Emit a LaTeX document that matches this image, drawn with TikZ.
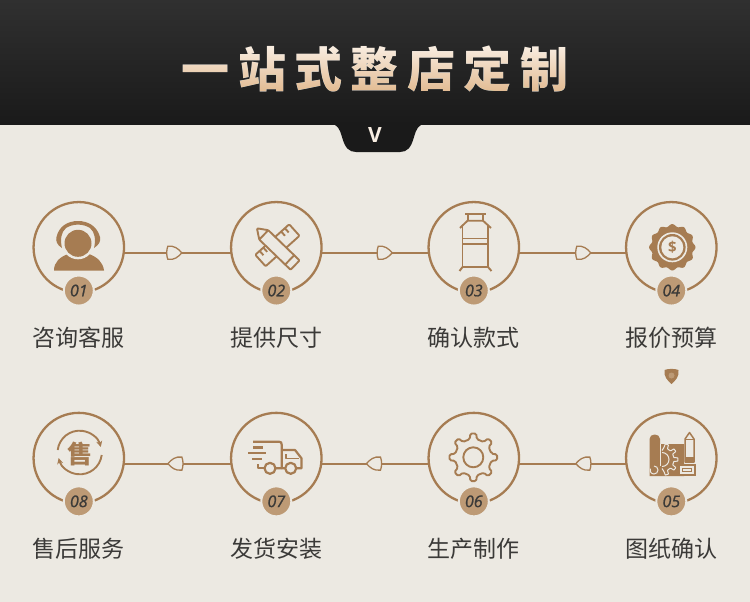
\documentclass[tikz,border=0pt]{standalone}
\usepackage{fontspec}
\setmainfont{Noto Sans CJK SC}
\setsansfont{Open Sans}
\newfontfamily\numfont[ItalicFeatures={FakeBold=1}]{Open Sans}
\newfontfamily\titlefont[LetterSpace=17.5]{Noto Sans CJK SC Black}
\usetikzlibrary{positioning,calc,arrows.meta}
\definecolor{Paper}{HTML}{ECE9E2}
\definecolor{RingTan}{HTML}{A67C52}
\definecolor{BadgeTan}{HTML}{BD9A75}
\definecolor{InkGrey}{HTML}{3B3A38}
\definecolor{BarTop}{HTML}{303030}
\definecolor{BarEnd}{HTML}{1A1A1A}
\definecolor{TitleTop}{HTML}{F9EEE2}
\definecolor{TitleEnd}{HTML}{E1B88E}
\tikzset{
    % Ring round each step
    ringbox/.style={
        circle,
        draw=RingTan,
        fill=none,
        line width=2.3pt,
        minimum size=90.5pt,
        inner sep=0pt,
        outer sep=0pt
    },
    numbadge/.style={
        circle,
        draw=Paper,
        fill=BadgeTan,
        line width=2pt,
        minimum size=30pt,
        inner sep=0pt,
        outer sep=0pt,
        text=InkGrey,
        font=\numfont\itshape\fontsize{16}{16}\selectfont
    },
    steplabel/.style={
        text=InkGrey,
        inner sep=0pt,
        text height=20pt,
        text depth=3pt,
        font=\fontsize{23}{23}\selectfont
    },
    link/.style={
        draw=RingTan,
        line width=1.8pt
    },
    iconline/.style={
        draw=RingTan,
        line width=1.9pt,
        line join=round
    },
    iconfill/.style={
        fill=RingTan,
        draw=none
    },
    paperline/.style={
        draw=Paper,
        line width=1pt
    },
    leafmark/.pic={
        \draw[draw=RingTan, fill=Paper, line width=1.3pt]
            (-6.5,-6.5) .. controls (0,-7.5) and (4,-4) .. (7.5,0)
            .. controls (4,4) and (0,7.5) .. (-6.5,6.5)
            .. controls (-8,3) and (-8,-3) .. (-6.5,-6.5) -- cycle;
    },
    leafsolid/.pic={
        \fill[RingTan]
            (-6.5,-7) .. controls (0,-8) and (4,-4) .. (7.5,0)
            .. controls (4,4) and (0,8) .. (-6.5,7)
            .. controls (-8,3) and (-8,-3) .. (-6.5,-7) -- cycle;
        \fill[BadgeTan] (-1,0) circle (3);
    }
}

\begin{document}
\begin{tikzpicture}[x=1pt, y=-1pt, node distance=107pt]
    \useasboundingbox (0,0) rectangle (750,602);
    % Paper and header
    \fill[Paper] (0,0) rectangle (750,602);
    \shade[top color=BarTop, bottom color=BarEnd] (0,0) rectangle (750,124);
    \fill[BarEnd] (330,123.5) .. controls (338,124) and (340,130) .. (342,137)
        .. controls (345,148) and (349,152) .. (356,152) -- (400,152)
        .. controls (407,152) and (411,148) .. (414,137)
        .. controls (416,130) and (418,124) .. (426,123.5) -- cycle;

    % Title
    \node[text=TitleTop, inner sep=0pt, font=\titlefont\fontsize{48}{48}\selectfont] (title) at (375,69) {一站式整店定制};
    \shade[top color=TitleTop, bottom color=TitleEnd, blend mode=darken] (170,45) rectangle (580,94);
    \node[text=TitleTop, font=\sffamily\bfseries\fontsize{21}{21}\selectfont, inner sep=0pt] (chevron) at (375,135) {V};

    % First row
    \node[ringbox] (consult) at (78.8,247.3) {};
    \node[ringbox, right=of consult] (measure) {};
    \node[ringbox, right=of measure] (model) {};
    \node[ringbox, right=of model] (quote) {};

    % Second row
    \node[ringbox, below=120.3pt of quote] (drawing) {};
    \node[ringbox, left=of drawing] (making) {};
    \node[ringbox, left=of making] (delivery) {};
    \node[ringbox, left=of delivery] (service) {};

    % Connectors
    \draw[link] (consult.-7) -- (measure.187) pic[pos=.47] {leafmark};
    \draw[link] (measure.-7) -- (model.187) pic[pos=.59] {leafmark};
    \draw[link] (model.-7) -- (quote.187) pic[pos=.6] {leafmark};
    \draw[link] (drawing.187) -- (making.-7) pic[pos=.4, rotate=180] {leafmark};
    \draw[link] (making.187) -- (delivery.-7) pic[pos=.51, rotate=180] {leafmark};
    \draw[link] (delivery.187) -- (service.-7) pic[pos=.52, rotate=180] {leafmark};
    \path (671.5,376.5) pic[rotate=-90] {leafsolid};

    % Badges
    \node[numbadge, yshift=2pt] (num1) at (consult.south) {01};
    \node[numbadge, yshift=2pt] (num2) at (measure.south) {02};
    \node[numbadge, yshift=2pt] (num3) at (model.south) {03};
    \node[numbadge, yshift=2pt] (num4) at (quote.south) {04};
    \node[numbadge, yshift=2pt] (num5) at (drawing.south) {05};
    \node[numbadge, yshift=2pt] (num6) at (making.south) {06};
    \node[numbadge, yshift=2pt] (num7) at (delivery.south) {07};
    \node[numbadge, yshift=2pt] (num8) at (service.south) {08};

    % Labels
    \node[steplabel, below=33.7pt of consult] (label1) {咨询客服};
    \node[steplabel, below=33.7pt of measure] (label2) {提供尺寸};
    \node[steplabel, below=33.7pt of model] (label3) {确认款式};
    \node[steplabel, below=33.7pt of quote] (label4) {报价预算};
    \node[steplabel, below=33.7pt of drawing] (label5) {图纸确认};
    \node[steplabel, below=33.7pt of making] (label6) {生产制作};
    \node[steplabel, below=33.7pt of delivery] (label7) {发货安装};
    \node[steplabel, below=33.7pt of service] (label8) {售后服务};

    % Headset person
    \fill[iconfill] (54,270.5) .. controls (54,262) and (60,257) .. (68,254) -- (89,254)
        .. controls (97,257) and (103,262) .. (104,270.5) -- cycle;
    \fill[Paper] (78,243.3) circle (16);
    \fill[iconfill] (78,243.3) circle (13.5);
    \fill[iconfill] (62,248) .. controls (57,245) and (55.5,241) .. (56.5,237)
        .. controls (59,226) and (68,221) .. (78,221)
        .. controls (88,221) and (97,226) .. (100,237)
        .. controls (101,241) and (99,245) .. (94,248)
        .. controls (96,240) and (95,232) .. (90,228)
        .. controls (83,223.5) and (73,223.5) .. (66,228)
        .. controls (61,232) and (60,240) .. (62,248) -- cycle;

    % Ruler and pencil
    \begin{scope}[shift={(277.4,245.3)}, rotate=42]
        \draw[iconline, rounded corners=1pt] (-22.8,-7.7) rectangle (22.8,7.7);
        \foreach \t in {-17,-12,12,17}
            \draw[iconline] (\t,-7.7) -- (\t,-2);
    \end{scope}
    \begin{scope}[shift={(276,246.7)}, rotate=-44]
        \draw[iconline, fill=Paper, rounded corners=1pt] (-26.5,0) -- (-17,-6.5) -- (26.5,-6.5) -- (26.5,6.5) -- (-17,6.5) -- cycle;
        \draw[iconline] (-17,-6.5) -- (-17,6.5) (19,-6.5) -- (19,6.5);
    \end{scope}

    % Rack
    \draw[iconline] (465,214.3) -- (486,214.3) (468,214.3) -- (468,220.7) (483,214.3) -- (483,220.7);
    \draw[iconline] (460,228) -- (467.5,220.7) -- (483,220.7) -- (491,228);
    \draw[iconline] (462.5,226) -- (462.5,267) (488,226) -- (488,267);
    \draw[iconline] (462.5,238.5) -- (488,238.5) (462.5,244) -- (488,244) (462.5,267) -- (488,267);
    \draw[iconline] (462.5,267) -- (459.5,271) (488,267) -- (491.5,271);

    % Price seal
    \fill[iconfill] plot[domain=0:360, samples=145, smooth] ({672.3+(22+1.2*cos(12*\x))*cos(\x)},{247.3+(22+1.2*cos(12*\x))*sin(\x)});
    \fill[Paper] (672.3,247.3) circle (15);
    \fill[iconfill] (672.3,247.3) circle (13.3);
    \fill[Paper] (672.3,247.3) circle (11);
    \node[text=RingTan, inner sep=0pt, font=\sffamily\bfseries\fontsize{15}{15}\selectfont] (dollar) at (672.3,247.3) {\$};

    % Blueprint
    \fill[iconfill] (649.5,476) -- (649.5,439) .. controls (649.5,433) and (660,433) .. (660,439) -- (660,444) -- (684,444) -- (684,476) -- cycle;
    \draw[paperline] (660,444) -- (660,466);
    \draw[paperline, rounded corners=.5pt]
        ($(662,459.5)+(-90:9)$)
        \foreach \a in {-72,-36,0,36,72} { -- ($(662,459.5)+(\a-9:12)$) -- ($(662,459.5)+(\a-6:16)$) -- ($(662,459.5)+(\a+6:16)$) -- ($(662,459.5)+(\a+9:12)$)}
        -- ($(662,459.5)+(90:9)$);
    \draw[paperline] (662,452.5) arc[start angle=-90, end angle=90, radius=7];
    \draw[paperline] (654,466) arc[start angle=-90, end angle=200, radius=4];
    \fill[iconfill] (678,463.5) rectangle (695.5,476);
    \fill[Paper] (680,466) rectangle (693.5,473.5);
    \draw[draw=RingTan, line width=1pt] (682.5,468.5) rectangle (691,471.5);
    \draw[iconline, line width=1.5pt, fill=Paper] (685,462) -- (685,439) -- (689.5,432.5) -- (694,439) -- (694,462) -- cycle;
    \fill[iconfill] (685,456.5) rectangle (694,462);
    \draw[draw=RingTan, line width=1pt] (685,439) -- (694,439);

    % Cog
    \draw[iconline, rounded corners=1.5pt] ($(473.3,457.3)+(-11:18.5)$)
        \foreach \a in {0,45,...,315} { -- ($(473.3,457.3)+(\a-11:18.5)$) -- ($(473.3,457.3)+(\a-7:24)$) -- ($(473.3,457.3)+(\a+7:24)$) -- ($(473.3,457.3)+(\a+11:18.5)$)} -- cycle;
    \draw[iconline] (473.3,457.3) circle (10);

    % Truck
    \draw[iconline, line width=2.2pt] (253,441.7) -- (279,441.7) .. controls (281,441.7) and (281.7,442.7) .. (281.7,444.7) -- (281.7,468.3) -- (276,468.3);
    \draw[iconline, line width=2.2pt] (253,447.5) -- (263,447.5) (248,453.3) -- (266,453.3) (252,459.3) -- (262,459.3);
    \draw[iconline, line width=2.2pt] (258,464) -- (258,468.3) -- (264.5,468.3);
    \draw[iconline, line width=2.2pt] (281.7,450) -- (295,450) -- (301.5,458.3) -- (301.5,468.3) -- (296.5,468.3) (285,468.3) -- (281.7,468.3);
    \draw[iconline, line width=1.8pt] (286,454) -- (286,458.5) -- (299,458.5);
    \draw[iconline, line width=2.2pt] (270,468.3) circle (5.5);
    \draw[iconline, line width=2.2pt] (290.7,468.3) circle (5.5);

    % After sales
    \draw[iconline, -{Stealth[length=6pt,width=6pt]}] (57.7,450) arc[start angle=187, end angle=345, radius=22];
    \draw[iconline, -{Stealth[length=6pt,width=6pt]}] (101.7,455) arc[start angle=7, end angle=165, radius=22];
    \node[text=RingTan, inner sep=0pt, font=\bfseries\fontsize{25}{25}\selectfont] (sell) at (79.7,454) {售};
\end{tikzpicture}
\end{document}
